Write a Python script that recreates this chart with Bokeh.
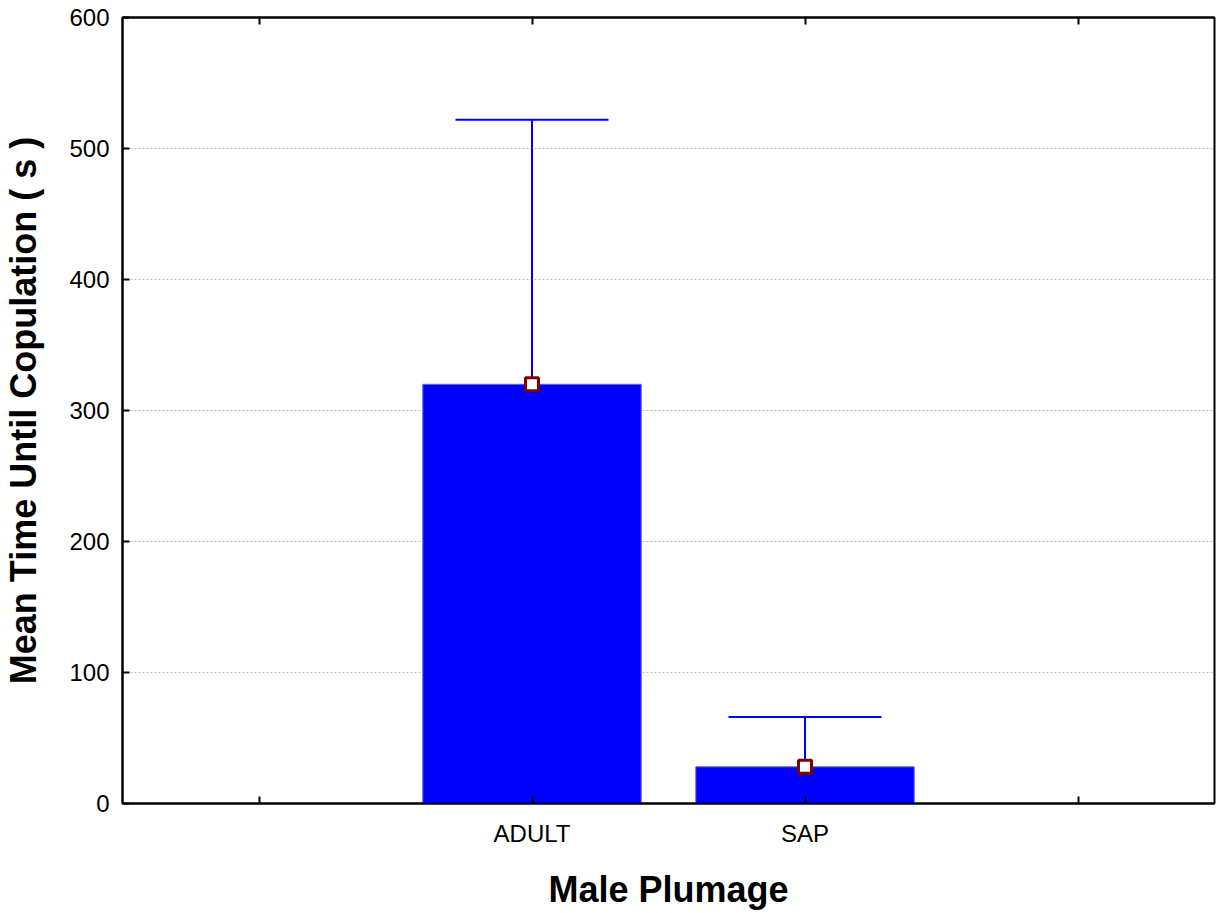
from bokeh.plotting import figure
from bokeh.models import (ColumnDataSource, FactorRange, Range1d, Whisker, TeeHead,
                          CategoricalAxis, FixedTicker)
from bokeh.embed import file_html
from bokeh.resources import INLINE

# data
categories = ["ADULT", "SAP"]
axis_factors = [" ", "ADULT", "SAP", "  "]
means = [320, 28]
upper = [522, 66]
y_ticks = [0, 100, 200, 300, 400, 500, 600]

src = ColumnDataSource(dict(cat=categories, mean=means, upper=upper))

p = figure(width=1222, height=913, x_range=FactorRange(*axis_factors, range_padding=0),
           y_range=Range1d(0, 600), output_backend="svg", toolbar_location=None,
           frame_width=1092, frame_height=786,
           min_border_left=121, min_border_top=17, min_border_right=9, min_border_bottom=10)

p.vbar(x="cat", top="mean", width=0.8, source=src, fill_color="#0000ff",
       line_color="#6060ff", line_width=1)

wh = Whisker(base="cat", lower="mean", upper="upper", source=src,
             line_color="#0000ff", line_width=2,
             upper_head=TeeHead(size=153, line_color="#0000ff", line_width=2),
             lower_head=None)
p.add_layout(wh)

p.scatter(x="cat", y="mean", source=src, marker="square", size=13,
          fill_color="white", line_color="#800000", line_width=3)

font = "Liberation Sans"
p.xgrid.visible = False
p.ygrid.grid_line_color = "#bbbbbb"
p.ygrid.grid_line_dash = "2 2"
p.ygrid.grid_line_width = 1
p.outline_line_color = "black"
p.outline_line_width = 2
p.outline_line_alpha = 1

p.yaxis.ticker = FixedTicker(ticks=y_ticks)
for ax in [p.xaxis[0], p.yaxis[0]]:
    ax.major_tick_in = 7
    ax.major_tick_out = 0
    ax.minor_tick_in = 0
    ax.minor_tick_out = 0
    ax.major_tick_line_color = "black"
    ax.major_tick_line_width = 2
    ax.axis_line_color = "black"
    ax.axis_line_width = 2
    ax.major_label_text_font = font
    ax.major_label_text_font_size = "24px"
    ax.major_label_text_color = "black"
    ax.axis_label_text_font = font
    ax.axis_label_text_font_style = "bold"
    ax.axis_label_text_color = "black"
    ax.axis_label_text_font_size = "36px"

p.yaxis.major_label_standoff = 13
p.yaxis.axis_label = "Mean Time Until Copulation ( s )"
p.yaxis.axis_label_standoff = 22

p.xaxis.major_label_standoff = 16
p.xaxis.axis_label = "Male Plumage"
p.xaxis.axis_label_standoff = 19

# top axis: tick marks only, blank factor labels
blank_factors = [" " * (i + 1) for i in range(len(axis_factors))]
p.extra_x_ranges = {"top": FactorRange(*blank_factors, range_padding=0)}
top = CategoricalAxis(x_range_name="top",
                      major_tick_in=7, major_tick_out=0, major_tick_line_width=2,
                      axis_line_width=2, major_label_standoff=0,
                      major_label_text_font_size="10px")
p.add_layout(top, "above")

open("out.html", "w").write(file_html(p, INLINE))
